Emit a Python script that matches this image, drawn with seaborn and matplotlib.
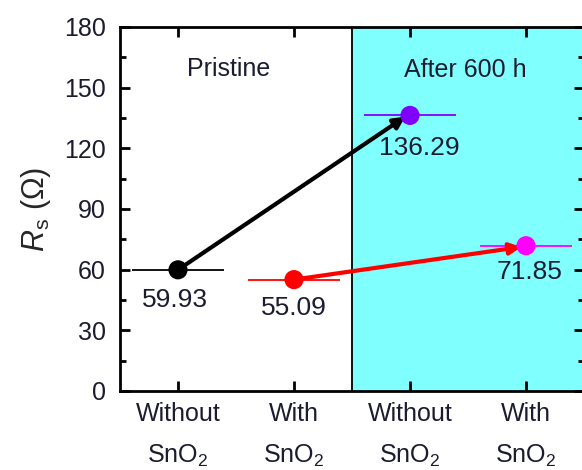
import matplotlib
matplotlib.use("Agg")
import matplotlib.pyplot as plt
import seaborn as sns
import pandas as pd
from matplotlib.ticker import MultipleLocator

# Series resistance of the devices, fresh and after ageing
positions = [1, 2, 3, 4]
tick_labels = ["Without\nSnO$_2$", "With\nSnO$_2$", "Without\nSnO$_2$", "With\nSnO$_2$"]
rs_values = [59.93, 55.09, 136.29, 71.85]
x_err = [0.4, 0.4, 0.4, 0.4]
point_colors = ["#000000", "#ff0000", "#8000ff", "#ff00ff"]
value_labels = ["59.93", "55.09", "136.29", "71.85"]
stage_labels = ["Pristine", "After 600 h"]

df = pd.DataFrame({"pos": positions, "rs": rs_values, "label": value_labels})

sns.set_theme(style="ticks")
plt.rcParams["font.family"] = ["Liberation Sans", "DejaVu Sans"]
plt.rcParams["mathtext.fontset"] = "custom"
plt.rcParams["mathtext.rm"] = "Liberation Sans"
plt.rcParams["mathtext.it"] = "Liberation Sans:italic"

text_color = "#1c1c30"

fig = plt.figure(figsize=(5.82, 4.70), dpi=100)
ax = fig.add_axes([120 / 582, 1 - 391 / 470, 464 / 582, 364 / 470])

ax.set_xlim(0.5, 4.5)
ax.set_ylim(0, 180)

# aged region shading and divider
ax.axvspan(2.5, 4.5, color="#80ffff", zorder=0, lw=0)
ax.axvline(2.5, color="black", lw=1.3, zorder=1)

# horizontal bars through each point
for x, y, e, c in zip(df["pos"], df["rs"], x_err, point_colors):
    ax.errorbar(x, y, xerr=e, fmt="none", ecolor=c, elinewidth=1.3, capsize=0, zorder=2)

sns.scatterplot(data=df, x="pos", y="rs", hue="label", palette=point_colors,
                s=190, edgecolor="none", legend=False, ax=ax, zorder=4)

# change arrows from pristine to aged
arrow_pairs = [(0, 2, "#000000"), (1, 3, "#ff0000")]
for i, j, c in arrow_pairs:
    ax.annotate("", xy=(positions[j] - 0.04, rs_values[j] - 0.6),
                xytext=(positions[i], rs_values[i]),
                arrowprops=dict(arrowstyle="-|>", color=c, lw=3.0,
                                mutation_scale=17, shrinkA=0, shrinkB=0),
                zorder=3)

# value labels
label_offsets = [(-0.03, -15), (0.0, -14), (0.08, -16), (0.03, -13)]
for (dx, dy), x, y, t in zip(label_offsets, positions, rs_values, value_labels):
    ax.text(x + dx, y + dy, t, ha="center", va="center", fontsize=19,
            color=text_color, zorder=5)

ax.text(1.44, 159, stage_labels[0], ha="center", va="center", fontsize=18, color=text_color)
ax.text(3.48, 158.5, stage_labels[1], ha="center", va="center", fontsize=18, color=text_color)

ax.set_xticks(positions)
ax.set_xticklabels(tick_labels, linespacing=1.85)
ax.yaxis.set_major_locator(MultipleLocator(30))
ax.yaxis.set_minor_locator(MultipleLocator(15))
ax.tick_params(axis="both", which="both", direction="in", top=True, right=True,
               width=2, colors="black", labelcolor=text_color)
ax.tick_params(axis="both", which="major", length=7)
ax.tick_params(axis="y", which="minor", length=4)
ax.tick_params(axis="y", labelsize=18, pad=10)
ax.tick_params(axis="x", labelsize=18, pad=8)

ax.set_xlabel("")
ax.set_ylabel(r"$\mathit{R}_{\rm s}$ ($\Omega$)", fontsize=22, labelpad=8)

for sp in ax.spines.values():
    sp.set_linewidth(2)
    sp.set_color("black")

fig.savefig("out.png", dpi=100)
